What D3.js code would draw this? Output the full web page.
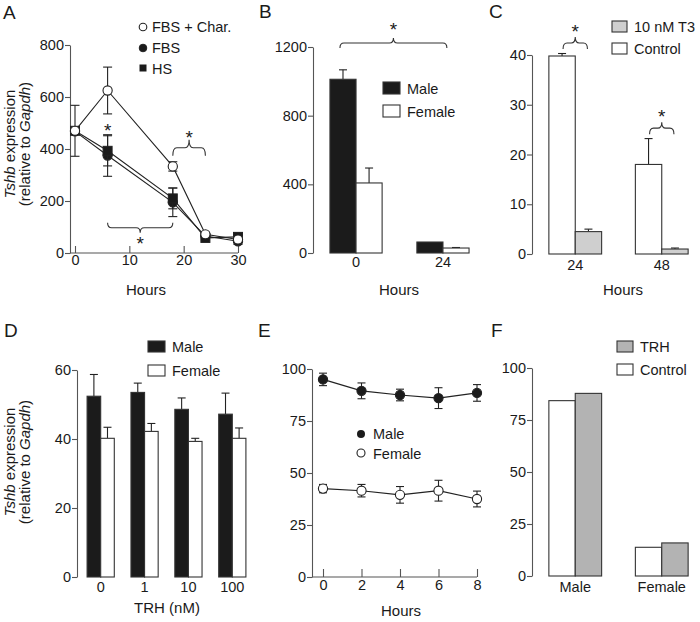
<!DOCTYPE html>
<html><head><meta charset="utf-8">
<script src="https://cdn.jsdelivr.net/npm/d3@7"></script>
<style>
body{margin:0;background:#fff;}
svg{display:block;font-family:"Liberation Sans",Arial,Helvetica,sans-serif;}
</style></head>
<body><svg id="c" width="700" height="622"></svg>
<script>
// ---------- DATA ----------
// Panel A
const aHours = [0, 6, 18, 24, 30];
const aFbsChar = [470, 625, 333, 72, 52];
const aFbsCharErr = [98, 90, 18, 8, 10];
const aFbs = [468, 375, 195, 65, 45];
const aFbsErr = [0, 80, 55, 8, 12];
const aHs = [470, 393, 210, 58, 62];
const aHsErr = [0, 58, 40, 8, 15];
const aYTicks = [0, 200, 400, 600, 800];
const aXTicks = [0, 10, 20, 30];
// Panel B
const bCats = ["0", "24"];
const bMale = [1012, 64];
const bMaleErr = [55, 0];
const bFemale = [408, 29];
const bFemaleErr = [87, 3];
const bYTicks = [0, 400, 800, 1200];
// Panel C
const cCats = ["24", "48"];
const cControl = [39.8, 18.0];
const cControlErr = [0.5, 5.2];
const cT3 = [4.5, 1.0];
const cT3Err = [0.5, 0.2];
const cYTicks = [0, 10, 20, 30, 40];
// Panel D
const dCats = ["0", "1", "10", "100"];
const dMale = [52.4, 53.5, 48.6, 47.2];
const dMaleErr = [6.3, 2.7, 3.3, 6.1];
const dFemale = [40.2, 42.2, 39.3, 40.2];
const dFemaleErr = [3.2, 2.3, 0.9, 3.0];
const dYTicks = [0, 20, 40, 60];
// Panel E
const eHours = [0, 2, 4, 6, 8];
const eMale = [95, 89.5, 87.5, 86, 88.5];
const eMaleErr = [3, 3.8, 2.8, 5, 4];
const eFemale = [42.5, 41.5, 39.5, 41.5, 37.5];
const eFemaleErr = [2, 3, 4, 5, 3.8];
const eYTicks = [0, 25, 50, 75, 100];
// Panel F
const fCats = ["Male", "Female"];
const fControl = [84.3, 13.8];
const fTrh = [87.8, 15.9];
const fYTicks = [0, 25, 50, 75, 100];

// ---------- STYLE ----------
const AX = "#555", TXT = "#1a1a1a", FS = 14.5, FT = 15;
const BLACK = "#1b1b1b", GREY_C = "#cfcfcf", GREY_F = "#b3b3b3";
const svg = d3.select("#c");

function styleAxis(g) {
  g.attr("font-size", FS).attr("font-family", null);
  g.selectAll("path,line").attr("stroke", AX).attr("stroke-width", 1.1);
  g.selectAll("text").attr("fill", TXT);
}
function yAxis(x, y, ticks) {
  const g = svg.append("g").attr("transform", `translate(${x},0)`)
    .call(d3.axisLeft(y).tickValues(ticks).tickFormat(d3.format("d")).tickSize(5).tickPadding(1).tickSizeOuter(0));
  styleAxis(g);
  return g;
}
function bandLabels(xb, zeroY, pad) {
  const g = svg.append("g").attr("transform", `translate(0,${zeroY})`)
    .call(d3.axisBottom(xb).tickSize(0).tickPadding(pad));
  g.select(".domain").remove();
  styleAxis(g);
}
function text(x, y, s, opts = {}) {
  const t = svg.append("text").attr("x", x).attr("y", y).attr("fill", TXT)
    .attr("font-size", opts.size || FS).attr("text-anchor", opts.anchor || "start").text(s);
  return t;
}
function panelLabel(x, y, s) { text(x, y, s, {size: 19}); }
function yTitle(cx, cy) {
  const g = svg.append("g").attr("transform", `translate(${cx},${cy}) rotate(-90)`);
  const t1 = g.append("text").attr("y", 0).attr("text-anchor", "middle").attr("font-size", FT).attr("fill", TXT);
  t1.append("tspan").attr("font-style", "italic").text("Tshb");
  t1.append("tspan").text(" expression");
  const t2 = g.append("text").attr("y", 14.5).attr("text-anchor", "middle").attr("font-size", FT).attr("fill", TXT);
  t2.append("tspan").text("(relative to ");
  t2.append("tspan").attr("font-style", "italic").text("Gapdh");
  t2.append("tspan").text(")");
}
function brace(x1, x2, y, h, dir) {
  // dir = 1: ends point down, tip up ; dir = -1: inverted
  const xm = (x1 + x2) / 2, r = 4;
  const p = `M${x1},${y + dir * h} Q${x1},${y} ${x1 + r},${y} L${xm - r},${y} Q${xm},${y} ${xm},${y - dir * h}` +
            ` Q${xm},${y} ${xm + r},${y} L${x2 - r},${y} Q${x2},${y} ${x2},${y + dir * h}`;
  svg.append("path").attr("d", p).attr("fill", "none").attr("stroke", "#333").attr("stroke-width", 1.1);
}
function star(x, cy) { text(x, cy + 11, "*", {size: 19, anchor: "middle"}); }
function errBar(x, yTop, yBot, cap) {
  svg.append("line").attr("x1", x).attr("x2", x).attr("y1", yTop).attr("y2", yBot).attr("stroke", "#222").attr("stroke-width", 1.1);
  svg.append("line").attr("x1", x - cap / 2).attr("x2", x + cap / 2).attr("y1", yTop).attr("y2", yTop).attr("stroke", "#222").attr("stroke-width", 1.1);
  if (yBot !== yTop) svg.append("line").attr("x1", x - cap / 2).attr("x2", x + cap / 2).attr("y1", yBot).attr("y2", yBot).attr("stroke", "#222").attr("stroke-width", 1.1);
}
function barUpErr(x, y0, yTop, cap) {
  svg.append("line").attr("x1", x).attr("x2", x).attr("y1", y0).attr("y2", yTop).attr("stroke", "#222").attr("stroke-width", 1.1);
  svg.append("line").attr("x1", x - cap / 2).attr("x2", x + cap / 2).attr("y1", yTop).attr("y2", yTop).attr("stroke", "#222").attr("stroke-width", 1.1);
}
function bars(xb, y, cats, vals, errs, idx, fill) {
  const w = xb.bandwidth() / 2;
  cats.forEach((c, i) => {
    const x0 = xb(c) + idx * w;
    if (errs && errs[i] > 0) barUpErr(x0 + w / 2, y(vals[i]), y(vals[i] + errs[i]), 8);
    svg.append("rect").attr("x", x0).attr("y", y(vals[i])).attr("width", w).attr("height", y(0) - y(vals[i]))
      .attr("fill", fill).attr("stroke", "#333").attr("stroke-width", 1.1);
  });
}
function legendBox(x, y, w, h, fill, label) {
  svg.append("rect").attr("x", x).attr("y", y).attr("width", w).attr("height", h).attr("fill", fill).attr("stroke", "#333").attr("stroke-width", 1.1);
  text(x + w + 7, y + h, label);
}

// ---------- PANEL A ----------
{
  const x = d3.scaleLinear().domain([0, 30]).range([75, 238]);
  const y = d3.scaleLinear().domain([0, 800]).range([253, 45]);
  yAxis(70, y, aYTicks);
  const gx = svg.append("g").attr("transform", "translate(0,253)")
    .call(d3.axisBottom(x).tickValues(aXTicks).tickSize(-7).tickPadding(2).tickSizeOuter(0));
  gx.select(".domain").remove();
  styleAxis(gx);
  svg.append("line").attr("x1", 70).attr("x2", x(30)).attr("y1", 253).attr("y2", 253).attr("stroke", AX).attr("stroke-width", 1.1);

  const line = d3.line().x((d, i) => x(aHours[i])).y(d => y(d));
  const series = [
    {v: aFbs, e: aFbsErr, shape: "circle", fill: BLACK},
    {v: aHs, e: aHsErr, shape: "square", fill: BLACK},
    {v: aFbsChar, e: aFbsCharErr, shape: "circle", fill: "#fff"}
  ];
  series.forEach(s => svg.append("path").attr("d", line(s.v)).attr("fill", "none").attr("stroke", "#222").attr("stroke-width", 1.1));
  series.forEach(s => {
    s.v.forEach((v, i) => {
      if (s.e[i] > 0) errBar(x(aHours[i]), y(v + s.e[i]), y(v - s.e[i]), 9);
    });
    s.v.forEach((v, i) => {
      if (s.shape === "circle")
        svg.append("circle").attr("cx", x(aHours[i])).attr("cy", y(v)).attr("r", 4.6).attr("fill", s.fill).attr("stroke", "#222").attr("stroke-width", 1.1);
      else
        svg.append("rect").attr("x", x(aHours[i]) - 4.5).attr("y", y(v) - 4.5).attr("width", 9).attr("height", 9).attr("fill", s.fill).attr("stroke", "#222");
    });
  });
  // annotations
  star(x(6), y(490));
  brace(x(18), x(24), y(405), 8, 1);
  star((x(18) + x(24)) / 2, y(462));
  brace(x(6), x(18), y(97), 5, -1);
  star((x(6) + x(18)) / 2, y(55));
  // legend
  svg.append("circle").attr("cx", 143).attr("cy", 27).attr("r", 3.8).attr("fill", "#fff").attr("stroke", "#222").attr("stroke-width", 1.1);
  svg.append("circle").attr("cx", 143).attr("cy", 48).attr("r", 3.8).attr("fill", BLACK).attr("stroke", "#222");
  svg.append("rect").attr("x", 139.5).attr("y", 64.5).attr("width", 7).attr("height", 7).attr("fill", BLACK);
  text(152, 32, "FBS + Char.");
  text(152, 53, "FBS");
  text(152, 74, "HS");
  text(146, 295, "Hours", {anchor: "middle", size: FT});
  yTitle(15, 144);
  panelLabel(3, 19, "A");
}

// ---------- PANEL B ----------
{
  const y = d3.scaleLinear().domain([0, 1200]).range([253, 47]);
  const xb = d3.scaleBand().domain(bCats).range([313, 486]).paddingInner(0.4).paddingOuter(0.195);
  yAxis(313, y, bYTicks);
  bars(xb, y, bCats, bMale, bMaleErr, 0, BLACK);
  bars(xb, y, bCats, bFemale, bFemaleErr, 1, "#fff");
  bandLabels(xb, 253, 4);
  brace(xb("0") + 10, xb("24") + 30, y(1223), 5, 1);
  star((xb("0") + 10 + xb("24") + 30) / 2, 25);
  legendBox(383, 82, 17, 12, BLACK, "Male");
  legendBox(383, 105, 17, 12, "#fff", "Female");
  text(399, 295, "Hours", {anchor: "middle", size: FT});
  panelLabel(259, 18, "B");
}

// ---------- PANEL C ----------
{
  const y = d3.scaleLinear().domain([0, 40]).range([254, 55]);
  const xb = d3.scaleBand().domain(cCats).range([532, 705]).paddingInner(0.39).paddingOuter(0.195);
  yAxis(532, y, cYTicks);
  bars(xb, y, cCats, cControl, cControlErr, 0, "#fff");
  bars(xb, y, cCats, cT3, cT3Err, 1, GREY_C);
  bandLabels(xb, 254, 6);
  const w = xb.bandwidth() / 2;
  cCats.forEach((c, i) => {
    const x1 = xb(c) + w / 2 + 1, x2 = xb(c) + 1.5 * w - 1;
    const yb = i === 0 ? y(42.4) : y(25.3);
    brace(x1, x2, yb, 6, 1);
    star((x1 + x2) / 2, yb - 16);
  });
  legendBox(612, 21, 15, 11, GREY_C, "10 nM T3");
  legendBox(612, 43, 15, 11, "#fff", "Control");
  text(623, 295, "Hours", {anchor: "middle", size: FT});
  panelLabel(489, 18, "C");
}

// ---------- PANEL D ----------
{
  const y = d3.scaleLinear().domain([0, 60]).range([577, 370]);
  const xb = d3.scaleBand().domain(dCats).range([77, 256]).paddingInner(0.38).paddingOuter(0.23);
  yAxis(77, y, dYTicks);
  bars(xb, y, dCats, dMale, dMaleErr, 0, BLACK);
  bars(xb, y, dCats, dFemale, dFemaleErr, 1, "#fff");
  bandLabels(xb, 577, 5);
  legendBox(148, 341, 17, 11, BLACK, "Male");
  legendBox(148, 365, 17, 11, "#fff", "Female");
  text(167, 613, "TRH (nM)", {anchor: "middle", size: FT});
  yTitle(15, 462);
  panelLabel(4, 337, "D");
}

// ---------- PANEL E ----------
{
  const x = d3.scaleLinear().domain([0, 8]).range([323, 477]);
  const y = d3.scaleLinear().domain([0, 100]).range([577, 369]);
  yAxis(312, y, eYTicks);
  const gx = svg.append("g").attr("transform", "translate(0,577)")
    .call(d3.axisBottom(x).tickValues(eHours).tickSize(-8).tickPadding(3).tickSizeOuter(0));
  gx.select(".domain").remove();
  styleAxis(gx);
  svg.append("line").attr("x1", 312).attr("x2", x(8)).attr("y1", 577).attr("y2", 577).attr("stroke", AX).attr("stroke-width", 1.1);
  const line = d3.line().x((d, i) => x(eHours[i])).y(d => y(d));
  [[eMale, eMaleErr, BLACK], [eFemale, eFemaleErr, "#fff"]].forEach(([v, e, f]) => {
    svg.append("path").attr("d", line(v)).attr("fill", "none").attr("stroke", "#222").attr("stroke-width", 1.1);
    v.forEach((d, i) => errBar(x(eHours[i]), y(d + e[i]), y(d - e[i]), 8));
    v.forEach((d, i) => svg.append("circle").attr("cx", x(eHours[i])).attr("cy", y(d)).attr("r", 4.6).attr("fill", f).attr("stroke", "#222").attr("stroke-width", 1.1));
  });
  svg.append("circle").attr("cx", 361).attr("cy", 434).attr("r", 4).attr("fill", BLACK);
  svg.append("circle").attr("cx", 361).attr("cy", 453).attr("r", 4).attr("fill", "#fff").attr("stroke", "#222").attr("stroke-width", 1.1);
  text(373, 439, "Male");
  text(373, 459, "Female");
  text(401, 616, "Hours", {anchor: "middle", size: FT});
  panelLabel(258, 337, "E");
}

// ---------- PANEL F ----------
{
  const y = d3.scaleLinear().domain([0, 100]).range([576, 368]);
  const xb = d3.scaleBand().domain(fCats).range([532, 705]).paddingInner(0.39).paddingOuter(0.195);
  yAxis(532, y, fYTicks);
  bars(xb, y, fCats, fControl, null, 0, "#fff");
  bars(xb, y, fCats, fTrh, null, 1, GREY_F);
  bandLabels(xb, 576, 6);
  legendBox(617, 341, 16, 11, GREY_F, "TRH");
  legendBox(617, 364, 16, 11, "#fff", "Control");
  panelLabel(491, 337, "F");
}
</script></body></html>
